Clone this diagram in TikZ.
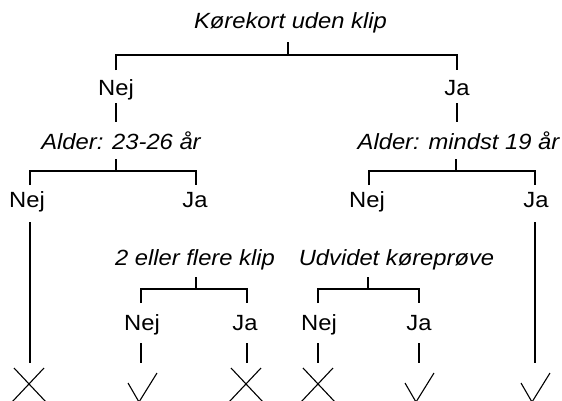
\documentclass[tikz,border=0pt]{standalone}
\usepackage{fontspec}
\setmainfont{Liberation Sans}[FakeStretch=1.08]
\begin{document}
\begin{tikzpicture}[x=1pt,y=-1pt,
  lbl/.style={anchor=base,inner sep=0pt,font=\fontsize{22}{26}\selectfont},
  qlbl/.style={lbl,font=\fontsize{22}{26}\selectfont\itshape},
  ln/.style={line width=1.25pt,black},
  mk/.style={line width=1.1pt,black}]
\useasboundingbox (0,0) rectangle (562,400);
\clip (0,0) rectangle (562,400);
% texts
\node[qlbl] (t)  at (290.5,28) {Kørekort uden klip};
\node[lbl] (n1) at (116,95) {Nej};
\node[lbl] (j1) at (457,95) {Ja};
\node[qlbl] (a1) at (121,149) {Alder: 23-26 år};
\node[qlbl] (a2) at (458.5,149) {Alder: mindst 19 år};
\node[lbl] (n2a) at (27,207) {Nej};
\node[lbl] (j2a) at (195,207) {Ja};
\node[lbl] (n2b) at (367,207) {Nej};
\node[lbl] (j2b) at (536,207) {Ja};
\node[qlbl] (q3) at (195,265) {2 eller flere klip};
\node[qlbl] (q4) at (396.5,265) {Udvidet køreprøve};
\node[lbl] (n3a) at (142,330) {Nej};
\node[lbl] (j3a) at (245,330) {Ja};
\node[lbl] (n3b) at (319,330) {Nej};
\node[lbl] (j3b) at (419,330) {Ja};
% junction coordinates
\coordinate (t0) at (288,42);   \coordinate (t1) at (288,55);
\coordinate (tl) at (116,70);   \coordinate (tr) at (457,70);
\coordinate (v1a) at (116,103); \coordinate (v1b) at (116,122);
\coordinate (v2a) at (457,103); \coordinate (v2b) at (457,122);
\coordinate (a10) at (116,159); \coordinate (a11) at (116,171);
\coordinate (a1l) at (30,185);  \coordinate (a1r) at (196,185);
\coordinate (a20) at (456,159); \coordinate (a21) at (456,171);
\coordinate (a2l) at (369,185); \coordinate (a2r) at (535,185);
\coordinate (la0) at (30,222);  \coordinate (la1) at (30,363);
\coordinate (lb0) at (535,222); \coordinate (lb1) at (535,363);
\coordinate (q30) at (196,277); \coordinate (q31) at (196,289);
\coordinate (q3l) at (141,303); \coordinate (q3r) at (247,303);
\coordinate (q40) at (368,277); \coordinate (q41) at (368,289);
\coordinate (q4l) at (318,303); \coordinate (q4r) at (419,303);
% connectors
\draw[ln] (t0) -- (t1) (tl) |- (t1) -| (tr);
\draw[ln] (v1a) -- (v1b) (v2a) -- (v2b);
\draw[ln] (a10) -- (a11) (a1l) |- (a11) -| (a1r);
\draw[ln] (a20) -- (a21) (a2l) |- (a21) -| (a2r);
\draw[ln] (la0) -- (la1) (lb0) -- (lb1);
\draw[ln] (q30) -- (q31) (q3l) |- (q31) -| (q3r);
\draw[ln] (q40) -- (q41) (q4l) |- (q41) -| (q4r);
\foreach \x/\n in {141/s1,247/s2,318/s3,419/s4}{
  \coordinate (\n a) at (\x,343); \coordinate (\n b) at (\x,363);
  \draw[ln] (\n a) -- (\n b);
}
% crosses
\foreach \c in {29,246,318}{
  \draw[mk] (\c-15,368) -- (\c+17,402) (\c+15,368) -- (\c-17,402);
}
% checks
\foreach \c in {141,418,534}{
  \draw[mk] (\c-13,383) -- (\c-2,402) -- (\c+16,373);
}
\end{tikzpicture}
\end{document}
